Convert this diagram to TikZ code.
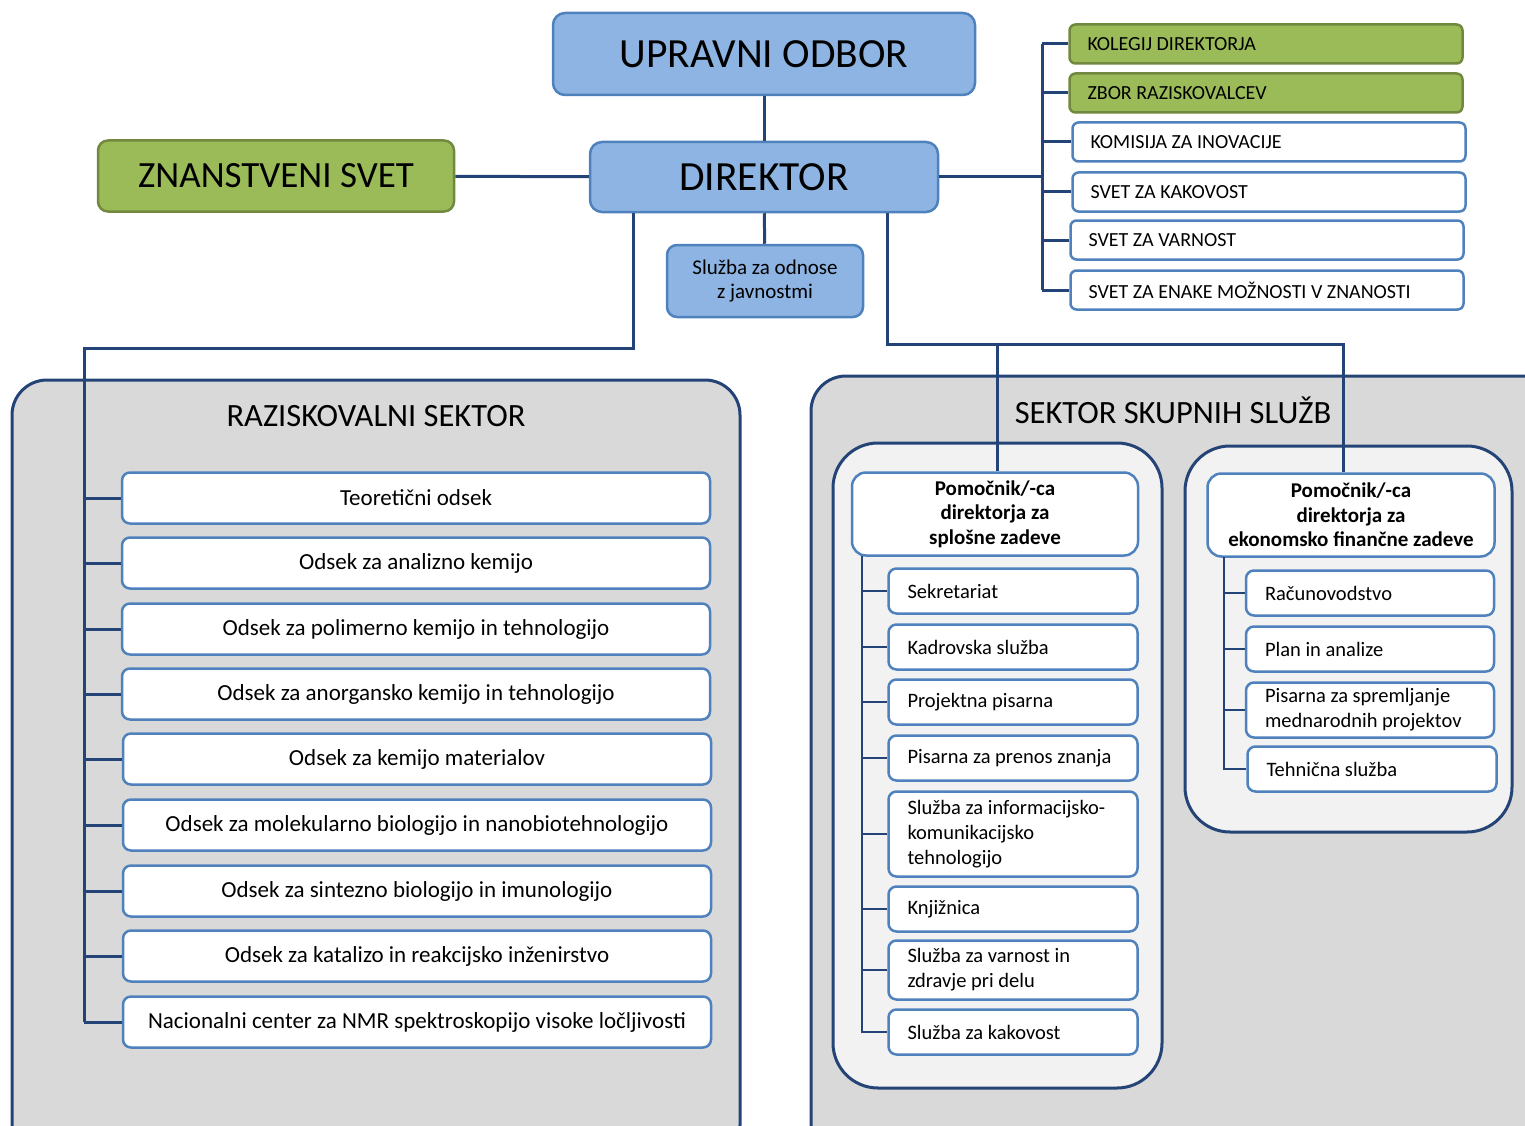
\documentclass[tikz,border=0pt]{standalone}
\usepackage{fontspec}
\setmainfont{Carlito}
\definecolor{modra}{RGB}{141,180,226}
\definecolor{robmodra}{RGB}{79,129,189}
\definecolor{zelena}{RGB}{155,187,89}
\definecolor{robzelena}{RGB}{113,137,63}
\definecolor{temna}{RGB}{36,68,120}
\definecolor{siva}{RGB}{217,217,217}
\definecolor{svetla}{RGB}{242,242,242}
\begin{document}
\begin{tikzpicture}[x=1pt,y=-1pt,
    vodstvo/.style={draw=robmodra, fill=modra, line width=2.5pt, rounded corners=12pt, inner sep=0pt},
    svet/.style={draw=robzelena, fill=zelena, line width=2.5pt, rounded corners=10pt, inner sep=0pt},
    organ/.style={draw=robmodra, fill=white, line width=2.5pt, rounded corners=6pt, minimum width=393pt,
        minimum height=39pt, inner xsep=18pt, text width=357pt, align=left, font=\fontsize{20}{24}\selectfont,
        execute at begin node={\spaceskip=0pt\xspaceskip=0pt}},
    zorgan/.style={organ, draw=robzelena, fill=zelena},
    odsek/.style={draw=robmodra, fill=white, line width=2.5pt, rounded corners=8pt, minimum width=588pt,
        minimum height=51pt, font=\fontsize{23}{26}\selectfont},
    sluzba/.style={draw=robmodra, fill=white, line width=2.5pt, rounded corners=8pt, minimum height=45pt,
        inner xsep=19pt, align=left, font=\fontsize{20.5}{25}\selectfont,
        execute at begin node={\spaceskip=0pt\xspaceskip=0pt}},
    pomocnik/.style={draw=robmodra, fill=white, line width=2.5pt, rounded corners=14pt, minimum height=83pt,
        align=center, font=\fontsize{21}{24.5}\selectfont\bfseries},
    sektor/.style={draw=temna, fill=siva, line width=3pt, rounded corners=35pt},
    skupina/.style={draw=temna, fill=svetla, line width=3pt, rounded corners=45pt},
    naslov/.style={font=\fontsize{32.5}{36}\selectfont},
    vez/.style={draw=temna, line width=3pt}]
\useasboundingbox (0,0) rectangle (1525,1126);
\clip (0,0) rectangle (1525,1126);

\draw[sektor] (12,380) rectangle (740,1160);
\draw[sektor] (811,376) rectangle (1570,1160);
\draw[skupina] (833,443) rectangle (1162,1088);
\draw[skupina] (1185,446) rectangle (1512,832);
\node[naslov] (rs) at (376,416) {RAZISKOVALNI SEKTOR};
\node[naslov] (sss) at (1173,410) {SEKTOR SKUPNIH SLUŽB};

\node[vodstvo, minimum width=422pt, minimum height=82pt, font=\fontsize{41.5}{46}\selectfont] (uo) at (764,54) {UPRAVNI ODBOR};
\node[vodstvo, minimum width=348pt, minimum height=70pt, font=\fontsize{41.5}{46}\selectfont] (dir) at (764,177) {DIREKTOR};
\node[svet, minimum width=356pt, minimum height=71pt, font=\fontsize{37}{42}\selectfont] (zs) at (276,176) {ZNANSTVENI SVET};
\node[vodstvo, minimum width=196pt, minimum height=72pt, rounded corners=10pt, align=center,
    font=\fontsize{21}{24}\selectfont] (odnosi) at (765,281) {Služba za odnose\\z javnostmi};

\node[zorgan] (kol) at (1266,44) {KOLEGIJ DIREKTORJA};
\node[zorgan] (zbor) at (1266,93) {ZBOR RAZISKOVALCEV};
\node[organ] (kom) at (1269,142) {KOMISIJA ZA INOVACIJE};
\node[organ] (kak) at (1269,192) {SVET ZA KAKOVOST};
\node[organ] (var) at (1267,240) {SVET ZA VARNOST};
\node[organ] (enake) at (1267,290) {SVET ZA ENAKE MOŽNOSTI V ZNANOSTI};

\node[odsek] (o1) at (416,498) {Teoretični odsek};
\node[odsek] (o2) at (416,563) {Odsek za analizno kemijo};
\node[odsek] (o3) at (416,629) {Odsek za polimerno kemijo in tehnologijo};
\node[odsek] (o4) at (416,694) {Odsek za anorgansko kemijo in tehnologijo};
\node[odsek] (o5) at (417,759) {Odsek za kemijo materialov};
\node[odsek] (o6) at (417,825) {Odsek za molekularno biologijo in nanobiotehnologijo};
\node[odsek] (o7) at (417,891) {Odsek za sintezno biologijo in imunologijo};
\node[odsek] (o8) at (417,956) {Odsek za katalizo in reakcijsko inženirstvo};
\node[odsek] (o9) at (417,1022) {Nacionalni center za NMR spektroskopijo visoke ločljivosti};

\node[pomocnik, minimum width=286pt] (pom1) at (995,514) {Pomočnik/-ca\\direktorja za\\splošne zadeve};
\node[pomocnik, minimum width=287pt] (pom2) at (1351,515) {Pomočnik/-ca\\direktorja za\\ekonomsko finančne zadeve};

\node[sluzba, minimum width=249pt, text width=211pt] (s1) at (1013,591) {Sekretariat};
\node[sluzba, minimum width=249pt, text width=211pt] (s2) at (1013,647) {Kadrovska služba};
\node[sluzba, minimum width=249pt, text width=211pt] (s3) at (1013,702) {Projektna pisarna};
\node[sluzba, minimum width=249pt, text width=211pt] (s4) at (1013,758) {Pisarna za prenos znanja};
\node[sluzba, minimum width=249pt, text width=211pt, minimum height=85pt] (s5) at (1013,834) {Služba za informacijsko-\\komunikacijsko\\tehnologijo};
\node[sluzba, minimum width=249pt, text width=211pt] (s6) at (1013,909) {Knjižnica};
\node[sluzba, minimum width=249pt, text width=211pt, minimum height=59pt] (s7) at (1013,970) {Služba za varnost in\\zdravje pri delu};
\node[sluzba, minimum width=249pt, text width=211pt] (s8) at (1013,1032) {Služba za kakovost};

\node[sluzba, minimum width=248pt, text width=210pt] (e1) at (1370,593) {Računovodstvo};
\node[sluzba, minimum width=248pt, text width=210pt] (e2) at (1370,649) {Plan in analize};
\node[sluzba, minimum width=248pt, text width=210pt, minimum height=55pt] (e3) at (1370,710) {Pisarna za spremljanje\\mednarodnih projektov};
\node[sluzba, minimum width=249pt, text width=211pt] (e4) at (1372,769) {Tehnična služba};

\draw[vez] (uo) -- (dir);
\draw[vez] (dir) -- (odnosi);
\draw[vez] (zs) -- (dir);

\coordinate (sv) at (1042,177);
\draw[vez] (dir.east) -- (sv);
\draw[vez] (sv |- kol.west) -- (sv |- enake.west);
\draw[vez] (sv |- kol.west) -- (kol.west);
\draw[vez] (sv |- zbor.west) -- (zbor.west);
\draw[vez] (sv |- kom.west) -- (kom.west);
\draw[vez] (sv |- kak.west) -- (kak.west);
\draw[vez] (sv |- var.west) -- (var.west);
\draw[vez] (sv |- enake.west) -- (enake.west);

\coordinate (lv) at (84,348);
\draw[vez] ([xshift=-131pt]dir.south) |- (lv) -- (lv |- o9.west);
\draw[vez] (lv |- o1.west) -- (o1.west);
\draw[vez] (lv |- o2.west) -- (o2.west);
\draw[vez] (lv |- o3.west) -- (o3.west);
\draw[vez] (lv |- o4.west) -- (o4.west);
\draw[vez] (lv |- o5.west) -- (o5.west);
\draw[vez] (lv |- o6.west) -- (o6.west);
\draw[vez] (lv |- o7.west) -- (o7.west);
\draw[vez] (lv |- o8.west) -- (o8.west);
\draw[vez] (lv |- o9.west) -- (o9.west);

\coordinate (dv) at (887,344);
\draw[vez] ([xshift=123pt]dir.south) |- ([xshift=-8pt]pom2.north |- dv) -- ([xshift=-8pt]pom2.north);
\draw[vez] ([xshift=2pt]pom1.north |- dv) -- ([xshift=2pt]pom1.north);

\coordinate (pv1) at (862,556);
\draw[vez, line width=2.5pt] (pv1) |- (s8.west);
\draw[vez, line width=2.5pt] (pv1 |- s1.west) -- (s1.west);
\draw[vez, line width=2.5pt] (pv1 |- s2.west) -- (s2.west);
\draw[vez, line width=2.5pt] (pv1 |- s3.west) -- (s3.west);
\draw[vez, line width=2.5pt] (pv1 |- s4.west) -- (s4.west);
\draw[vez, line width=2.5pt] (pv1 |- s5.west) -- (s5.west);
\draw[vez, line width=2.5pt] (pv1 |- s6.west) -- (s6.west);
\draw[vez, line width=2.5pt] (pv1 |- s7.west) -- (s7.west);

\coordinate (pv2) at (1224,557);
\draw[vez, line width=2.5pt] (pv2) |- (e4.west);
\draw[vez, line width=2.5pt] (pv2 |- e1.west) -- (e1.west);
\draw[vez, line width=2.5pt] (pv2 |- e2.west) -- (e2.west);
\draw[vez, line width=2.5pt] (pv2 |- e3.west) -- (e3.west);
\end{tikzpicture}
\end{document}
